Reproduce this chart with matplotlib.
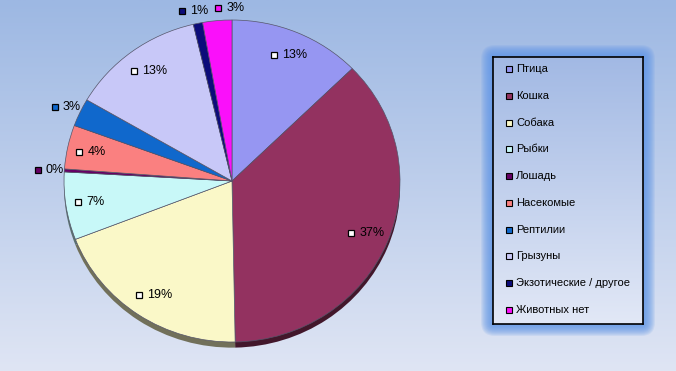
import matplotlib.pyplot as plt
import matplotlib.colors as mcolors
import matplotlib.transforms as mtransforms
from matplotlib.patches import FancyBboxPatch, Rectangle
import numpy as np

plt.rcParams['font.family'] = ['Liberation Sans', 'DejaVu Sans']

# Data (share of respondents, %)
categories = ['Птица', 'Кошка', 'Собака', 'Рыбки', 'Лошадь', 'Насекомые',
              'Рептилии', 'Грызуны', 'Экзотические / другое', 'Животных нет']
shares = [12.7, 37.0, 19.4, 6.8, 0.3, 4.4, 2.8, 12.9, 0.9, 2.8]
colors = ['#9696F2', '#933260', '#FAF8C8', '#C8F8F8', '#660066',
          '#FA8080', '#1068CC', '#C8C8F8', '#0C0C7A', '#FA10FA']

W, H = 676, 371
fig = plt.figure(figsize=(W / 100, H / 100), dpi=100)

# background with vertical gradient
bg = fig.add_axes([0, 0, 1, 1])
bg.set_xlim(0, W)
bg.set_ylim(H, 0)
bg.set_axis_off()
top = np.array(mcolors.to_rgb('#9DB8E3'))
bot = np.array(mcolors.to_rgb('#DFE5F4'))
t = np.linspace(0, 1, 200)[:, None]
grad = (top * (1 - t) + bot * t)[:, None, :]
bg.imshow(grad, extent=[0, W, H, 0], aspect='auto', zorder=0)

# glow around the legend box
lx0, ly0, lx1, ly1 = 493, 57, 643, 324
for i in range(12, 0, -1):
    glow = FancyBboxPatch((lx0 - i, ly0 - i), (lx1 - lx0) + 2 * i, (ly1 - ly0) + 2 * i,
                          boxstyle='round,pad=0,rounding_size=%d' % (i + 2),
                          facecolor='#5F96E6', edgecolor='none', alpha=0.13, zorder=1)
    bg.add_patch(glow)

# pie (slightly elliptical, like the original)
cx, cy, rx, ry = 232, 181, 168, 161
ax = fig.add_axes([(cx - rx) / W, (H - cy - ry) / H, 2 * rx / W, 2 * ry / H])
ax.set_axis_off()

shadow_colors = [tuple(np.array(mcolors.to_rgb(c)) * 0.45) for c in colors]
ax.pie(shares, colors=shadow_colors, startangle=90, counterclock=False,
       center=(0, -0.035), radius=1.0, wedgeprops=dict(edgecolor='none'))
wedges, _ = ax.pie(shares, colors=colors, startangle=90, counterclock=False,
                   radius=1.0, wedgeprops=dict(edgecolor='#55556A', linewidth=0.5))
ax.set_aspect('auto')
ax.set_xlim(-1, 1)
ax.set_ylim(-1, 1)

marker_shift = mtransforms.ScaledTranslation(-13 / 100, 0, fig.dpi_scale_trans)
total = sum(shares)
prev_x = None
for w, val, col in zip(wedges, shares, colors):
    mid = np.deg2rad((w.theta1 + w.theta2) / 2)
    outside = val < 3
    r = 1.08 if outside else 0.85
    x, y = r * np.cos(mid), r * np.sin(mid)
    # push overlapping outside labels apart (like Excel does)
    if outside and prev_x is not None and y > 0.9 and abs(x - prev_x) < 36 / rx:
        x = prev_x + 36 / rx
    if outside:
        prev_x = x
    face = col if outside else 'white'
    ax.plot([x], [y], marker='s', markersize=5, markerfacecolor=face,
            markeredgecolor='black', markeredgewidth=0.9, linestyle='none',
            transform=ax.transData + marker_shift, clip_on=False)
    ax.annotate('%d%%' % round(val / total * 100), xy=(x, y), xytext=(-5, 0),
                textcoords='offset pixels', ha='left', va='center', fontsize=9,
                color='black', annotation_clip=False)

# legend box
leg = fig.add_axes([lx0 / W, (H - ly1) / H, (lx1 - lx0) / W, (ly1 - ly0) / H])
leg.set_xlim(lx0, lx1)
leg.set_ylim(ly1, ly0)
ltop = np.array(mcolors.to_rgb('#A2B9E4'))
lbot = np.array(mcolors.to_rgb('#E2E8F6'))
lgrad = (ltop * (1 - t) + lbot * t)[:, None, :]
leg.imshow(lgrad, extent=[lx0, lx1, ly1, ly0], aspect='auto')
leg.set_xticks([])
leg.set_yticks([])
for s in leg.spines.values():
    s.set_color('black')
    s.set_linewidth(1.2)

row_y = np.linspace(69, 310, len(categories))
for name, col, yy in zip(categories, colors, row_y):
    leg.add_patch(Rectangle((506, yy - 3), 6, 6, facecolor=col, edgecolor='black',
                            linewidth=0.8))
    leg.text(516, yy, name, ha='left', va='center', fontsize=8, color='black')

fig.savefig('out.png', dpi=100)
